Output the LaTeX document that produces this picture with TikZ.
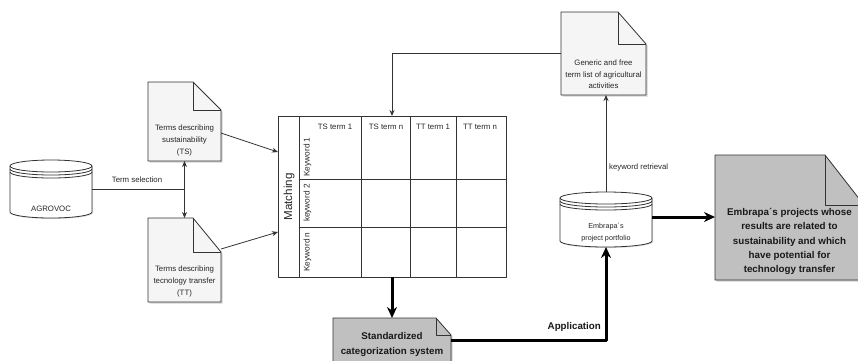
\documentclass[tikz,border=0pt]{standalone}
\usepackage{fontspec}
\setmainfont{Liberation Sans}
\usetikzlibrary{arrows.meta,calc,shadows}
\definecolor{lightdoc}{HTML}{F5F5F5}
\definecolor{graydoc}{HTML}{C0C0C0}
\definecolor{linec}{HTML}{333333}
\newcommand\notedraw[4]{%
  \path[#1] (#2.south west) -- (#2.north west) -- ($(#2.north east)+(-#3,0)$) -- ($(#2.north east)+(0,-#4)$) -- (#2.south east) -- cycle;
  \draw[linec, line width=0.8pt] ($(#2.north east)+(-#3,0)$) -- ($(#2.north east)+(-#3,-#4)$) -- ($(#2.north east)+(0,-#4)$);
}
\newcommand\cyldraw[4]{%
  \pgfmathsetmacro\cylrx{(#2-#1)/2}%
  \path[cylstyle] (#1,#3-6) -- (#1,#4+6) arc[start angle=180,end angle=360,x radius=\cylrx,y radius=6] -- (#2,#3-6) arc[start angle=0,end angle=180,x radius=\cylrx,y radius=6] -- cycle;
  \draw[thinline] (#1,#3-6) arc[start angle=180,end angle=360,x radius=\cylrx,y radius=6];
  \draw[thinline] (#1,#3-9) arc[start angle=180,end angle=360,x radius=\cylrx,y radius=6];
  \draw[thinline] (#1,#3-12) arc[start angle=180,end angle=360,x radius=\cylrx,y radius=6];
}
\tikzset{
  holder/.style={inner sep=0pt, outer sep=0pt, draw=none},
  lbl/.style={inner sep=0pt, align=center, text=black!85, font=\fontsize{7.8}{12}\selectfont},
  boldlbl/.style={inner sep=0pt, align=center, text=black!90, font=\bfseries\fontsize{9.75}{14.4}\selectfont},
  thinline/.style={draw=linec, line width=0.8pt},
  thinarrow/.style={thinline, -{Stealth[length=6pt,width=5pt]}},
  thickarrow/.style={draw=black, line width=3pt, -{Stealth[length=11pt,width=10pt]}},
  lightdocs/.style={fill=lightdoc, draw=linec, line width=0.8pt, drop shadow={shadow xshift=1.5pt,shadow yshift=-1.5pt,opacity=0.35}},
  graydocs/.style={fill=graydoc, draw=linec, line width=0.8pt, drop shadow={shadow xshift=1.5pt,shadow yshift=-1.5pt,opacity=0.35}},
  cylstyle/.style={fill=white, draw=linec, line width=0.8pt, drop shadow={shadow xshift=1pt,shadow yshift=-1pt,opacity=0.25}},
}
\begin{document}
\begin{tikzpicture}[x=1pt,y=1pt,line join=round]
\useasboundingbox (0,0) rectangle (858,-360);
\clip (0,0) rectangle (858,-360);
\fill[white] (0,0) rectangle (858,-360);

% placeholders
\node[holder, minimum width=82, minimum height=58] (agro) at (51,-189) {};
\node[holder, minimum width=73, minimum height=79] (ts) at (184.5,-121.5) {};
\node[holder, minimum width=73, minimum height=84] (tt) at (184.5,-260) {};
\node[holder, minimum width=228, minimum height=161] (table) at (392,-196.5) {};
\node[holder, minimum width=85, minimum height=83] (gen) at (603.5,-53.5) {};
\node[holder, minimum width=92, minimum height=55] (port) at (606,-219.5) {};
\node[holder, minimum width=149, minimum height=125] (big) at (789.5,-217.5) {};
\node[holder, minimum width=118, minimum height=57] (std) at (392,-346.5) {};

% shapes
\cyldraw{10}{92}{-160}{-218}
\cyldraw{560}{652}{-192}{-247}
\notedraw{lightdocs}{ts}{28}{28}
\notedraw{lightdocs}{tt}{28}{34}
\notedraw{lightdocs}{gen}{28}{32}
\notedraw{graydocs}{big}{39}{50}
\notedraw{graydocs}{std}{15}{17}

% table
\draw[thinline, fill=white] (table.north west) rectangle (table.south east);
\foreach \xx in {299,361,410,456} \draw[thinline] (\xx,-116) -- (\xx,-277);
\foreach \yy in {179,227} \draw[thinline] (299,-\yy) -- (506,-\yy);
\node[lbl, rotate=90, font=\fontsize{11.6}{13}\selectfont] (matching) at (289,-197) {Matching};
\node[lbl, rotate=90, font=\fontsize{8.3}{10}\selectfont] (kw1) at (307.5,-157) {Keyword 1};
\node[lbl, rotate=90, font=\fontsize{8.3}{10}\selectfont] (kw2) at (307.5,-203) {keyword 2};
\node[lbl, rotate=90, font=\fontsize{8.3}{10}\selectfont] (kwn) at (307.5,-252) {Keyword n};
\node[lbl] (h1) at (335,-127) {TS term 1};
\node[lbl] (h2) at (386,-127) {TS term n};
\node[lbl] (h3) at (433,-127) {TT term 1};
\node[lbl] (h4) at (480,-127) {TT term n};

% texts
\node[lbl] (agrotext) at (51,-209) {AGROVOC};
\node[lbl] (tstext) at (184.5,-140) {Terms describing\\sustainability\\(TS)};
\node[lbl] (tttext) at (184.5,-281) {Terms describing\\tecnology transfer\\(TT)};
\node[lbl, font=\fontsize{7.8}{11.5}\selectfont] (gentext) at (603.5,-74.5) {Generic and free\\term list of agricultural\\activities};
\node[lbl, font=\fontsize{7.2}{11.2}\selectfont] (porttext) at (606,-232.5) {Embrapa´s\\project portfolio};
\node[boldlbl, font=\bfseries\fontsize{9.8}{14.3}\selectfont] (bigtext) at (789.5,-241.5) {Embrapa´s projects whose\\results are related to\\sustainability and which\\have potential for\\technology transfer};
\node[boldlbl] (stdtext) at (392,-344.5) {Standardized\\categorization system};

% connectors
\coordinate (junc) at (ts.south |- agro.east);
\draw[thinline] (agro.east) -- (junc);
\node[lbl] (termsel) at (137,-180) {Term selection};
\draw[thinline, {Stealth[length=6pt,width=5pt]}-{Stealth[length=6pt,width=5pt]}] (ts.south) -- (tt.north);
\draw[thinarrow] ($(ts.east)+(0,-11.5)$) -- ($(table.west)+(0,44.5)$);
\draw[thinarrow] ($(tt.east)+(0,11)$) -- ($(table.west)+(0,-35.5)$);
\draw[thinarrow] (gen.west) -| (table.north);
\draw[thinarrow] (port.north) -- (port.north |- gen.south);
\node[lbl, anchor=west] (kwret) at (609,-167) {keyword retrieval};
\draw[thickarrow] (table.south) -- (std.north);
\draw[thickarrow] ($(std.east)+(0,6.5)$) -| (port.south);
\node[boldlbl, anchor=east] (applab) at (601,-327) {Application};
\coordinate (pe) at ($(port.east)+(0,2.5)$);
\draw[thickarrow] (pe) -- (pe -| big.west);
\end{tikzpicture}
\end{document}
